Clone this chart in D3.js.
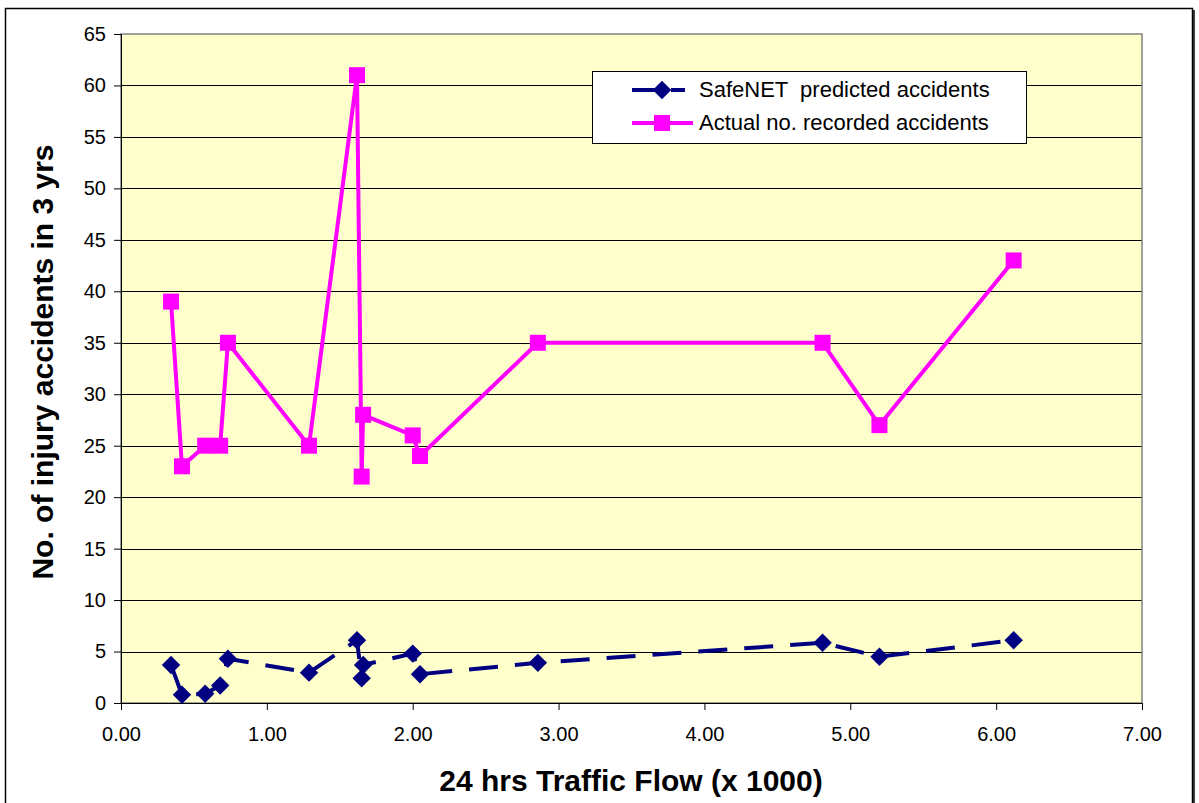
<!DOCTYPE html>
<html>
<head>
<meta charset="utf-8">
<script src="https://cdn.jsdelivr.net/npm/d3@7"></script>
<style>
  body { margin: 0; background: #fff; }
  text { font-family: "Liberation Sans", Arial, sans-serif; }
</style>
</head>
<body>
<svg id="chart" width="1199" height="803"></svg>
<script>
// traffic flow (x 1000) for each site, in plotting order
var flow = [0.343, 0.418, 0.577, 0.68, 0.733, 1.289, 1.618, 1.65, 1.66, 2.0, 2.05, 2.858, 4.81, 5.2, 6.12];
var predicted = [3.7, 0.8, 0.9, 1.7, 4.3, 2.95, 6.1, 2.4, 3.7, 4.8, 2.8, 3.9, 5.85, 4.5, 6.1];
var actual = [39, 23, 25, 25, 35, 25, 61, 22, 28, 26, 24, 35, 35, 27, 43];

var xTicks = [0, 1, 2, 3, 4, 5, 6, 7];
var yTicks = [0, 5, 10, 15, 20, 25, 30, 35, 40, 45, 50, 55, 60, 65];

var seriesNames = ["SafeNET  predicted accidents", "Actual no. recorded accidents"];

var svg = d3.select("#chart");
var plotL = 121, plotR = 1142, plotT = 34, plotB = 703;

var x = d3.scaleLinear().domain([0, 7]).range([plotL, plotR]);
var y = d3.scaleLinear().domain([0, 65]).range([plotB, plotT]);

// outer frame
svg.append("rect")
  .attr("x", 5.5).attr("y", 8.5)
  .attr("width", 1187).attr("height", 800)
  .attr("fill", "#fff").attr("stroke", "#000").attr("stroke-width", 1.5);
svg.append("line")
  .attr("x1", 1194).attr("x2", 1194).attr("y1", 10).attr("y2", 803)
  .attr("stroke", "#000").attr("stroke-width", 1.5);

// plot area
svg.append("rect")
  .attr("x", plotL).attr("y", plotT)
  .attr("width", plotR - plotL).attr("height", plotB - plotT)
  .attr("fill", "#FFFFCC");

// gridlines
svg.append("g").selectAll("line")
  .data(yTicks.filter(d => d > 0 && d < 65))
  .join("line")
  .attr("x1", plotL).attr("x2", plotR)
  .attr("y1", d => Math.round(y(d)) + 0.5).attr("y2", d => Math.round(y(d)) + 0.5)
  .attr("stroke", "#000").attr("stroke-width", 1);

svg.append("rect")
  .attr("x", plotL).attr("y", plotT)
  .attr("width", plotR - plotL).attr("height", plotB - plotT)
  .attr("fill", "none").attr("stroke", "#808080").attr("stroke-width", 1.5);

// axes
var yAxis = d3.axisLeft(y).tickValues(yTicks).tickSize(7).tickPadding(8).tickFormat(d3.format("d"));
var gy = svg.append("g").attr("transform", "translate(" + plotL + ",0)").call(yAxis);
gy.select(".domain").attr("stroke", "#000");
gy.selectAll(".tick line").attr("stroke", "#000");
gy.selectAll("text").attr("font-size", 20).attr("fill", "#000")
  .style("font-family", "'Liberation Sans', Arial, sans-serif");

var xAxis = d3.axisBottom(x).tickValues(xTicks).tickSize(7).tickPadding(17).tickFormat(d3.format(".2f"));
var gx = svg.append("g").attr("transform", "translate(0," + plotB + ")").call(xAxis);
gx.select(".domain").attr("stroke", "#000");
gx.selectAll(".tick line").attr("stroke", "#000");
gx.selectAll("text").attr("font-size", 20).attr("fill", "#000")
  .style("font-family", "'Liberation Sans', Arial, sans-serif");

// axis titles
svg.append("text")
  .attr("x", 631).attr("y", 791)
  .attr("text-anchor", "middle")
  .attr("font-size", 30).attr("font-weight", "bold")
  .text("24 hrs Traffic Flow (x 1000)");

svg.append("text")
  .attr("transform", "translate(53," + 362 + ") rotate(-90)")
  .attr("text-anchor", "middle")
  .attr("font-size", 30).attr("font-weight", "bold")
  .text("No. of injury accidents in 3 yrs");

// series
var line = d3.line().x(d => x(d[0])).y(d => y(d[1]));
var predPts = flow.map((f, i) => [f, predicted[i]]);
var actPts = flow.map((f, i) => [f, actual[i]]);

var blue = "#000080", pink = "#FF00FF";

svg.append("path")
  .attr("d", line(actPts))
  .attr("fill", "none").attr("stroke", pink).attr("stroke-width", 4)
  .attr("stroke-linejoin", "round");
svg.append("g").selectAll("rect")
  .data(actPts).join("rect")
  .attr("x", d => x(d[0]) - 8).attr("y", d => y(d[1]) - 8)
  .attr("width", 16).attr("height", 16)
  .attr("fill", pink);

svg.append("path")
  .attr("d", line(predPts))
  .attr("fill", "none").attr("stroke", blue).attr("stroke-width", 4)
  .attr("stroke-dasharray", "29,17");
var diamond = d3.symbol().type(d3.symbolSquare).size(170);
svg.append("g").selectAll("path")
  .data(predPts).join("path")
  .attr("d", diamond)
  .attr("transform", d => "translate(" + x(d[0]) + "," + y(d[1]) + ") rotate(45)")
  .attr("fill", blue);

// legend
var lg = svg.append("g");
lg.append("rect")
  .attr("x", 592.5).attr("y", 71.5).attr("width", 434).attr("height", 72)
  .attr("fill", "#fff").attr("stroke", "#000").attr("stroke-width", 1);

lg.append("line").attr("x1", 632).attr("x2", 693).attr("y1", 90).attr("y2", 90)
  .attr("stroke", blue).attr("stroke-width", 4).attr("stroke-dasharray", "29,10,14");
lg.append("path").attr("d", diamond)
  .attr("transform", "translate(662,90) rotate(45)").attr("fill", blue);

lg.append("line").attr("x1", 632).attr("x2", 693).attr("y1", 123).attr("y2", 123)
  .attr("stroke", pink).attr("stroke-width", 4);
lg.append("rect").attr("x", 654).attr("y", 115).attr("width", 16).attr("height", 16).attr("fill", pink);

lg.selectAll("text.lbl").data(seriesNames).join("text")
  .attr("class", "lbl")
  .attr("x", 699).attr("y", (d, i) => 97 + i * 33)
  .attr("font-size", 22).attr("fill", "#000")
  .style("white-space", "pre")
  .text(d => d);
</script>
</body>
</html>
